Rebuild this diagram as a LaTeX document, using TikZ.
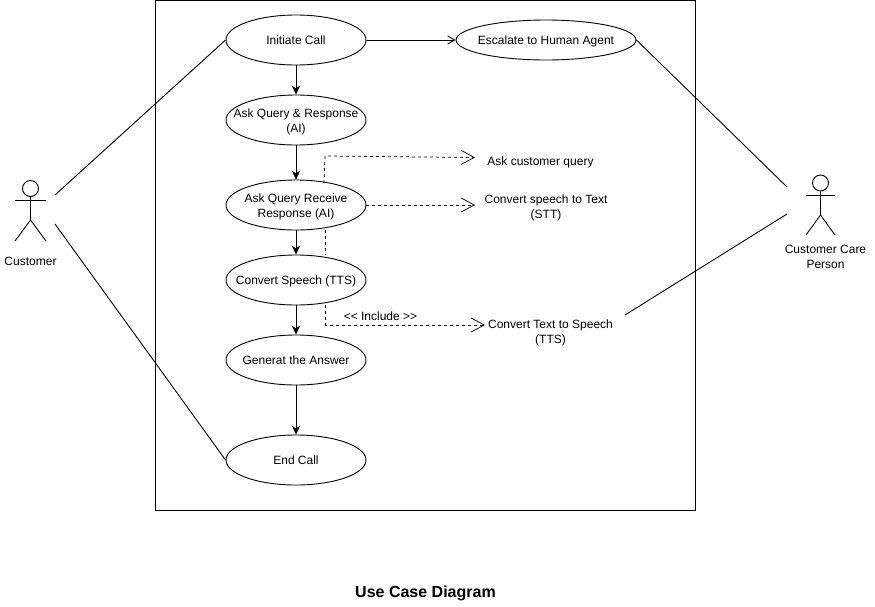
\documentclass[tikz,border=0pt]{standalone}
\usepackage{fontspec}
\setmainfont{Liberation Sans}
\usetikzlibrary{arrows.meta,shapes.geometric}
\newcommand{\lowerline}{\rule{0pt}{13pt}}
\begin{document}
\begin{tikzpicture}[x=1pt, y=-1pt, >={Stealth[length=9pt,width=8.5pt]}, line width=0.9pt]
        \tikzset{%
         every usecase/.style={
            ellipse,
            draw,
            align=center,
            inner sep=-15pt,
            font=\fontsize{12}{15}\selectfont,
            minimum width=140pt,
            minimum height=50pt},
        usecase initiate/.style={text height=11.5pt, text depth=2.9pt},
        usecase speech/.style={text height=11.5pt, text depth=2.9pt},
        usecase answer/.style={text height=11.5pt, text depth=2.9pt},
        usecase end/.style={text height=11.5pt, text depth=2.9pt},
        usecase escalate/.style={
            text height=11.5pt,
            text depth=2.9pt,
            minimum width=180pt,
            minimum height=40pt},
        note/.style={
            align=center,
            font=\fontsize{12}{15}\selectfont},
        include/.style={
            dashed,
            line width=0.75pt,
            dash pattern=on 3pt off 3pt,
            -{Straight Barb[length=13pt,width=14pt]}},
        dep/.style={
            dashed,
            line width=0.75pt,
            dash pattern=on 3pt off 3pt},
        }
        \useasboundingbox (0,0) rectangle (875,606);

        \node [draw, minimum width=540pt, minimum height=510pt, inner sep=0pt] (system) at (425.5,255.5) {};

        \foreach \m/\l/\y in {initiate/Initiate Call/40,
                              query/{\lowerline Ask Query \& Response\\(AI)}/120,
                              receive/{\lowerline Ask Query Receive\\Response (AI)}/205,
                              speech/Convert Speech (TTS)/280,
                              answer/Generat the Answer/360,
                              end/End Call/460}
        {
            \node [every usecase/.try, usecase \m/.try] (case-\m) at (296,\y) {\l};
        }
        \node [every usecase/.try, usecase escalate/.try] (case-escalate) at (546,40) {Escalate to Human Agent};

        \node [note] (note-query) at (540.5,162) {Ask customer query};
        \node [note] (note-stt) at (546,207.5) {Convert speech to Text\\(STT)};
        \node [note] (note-tts) at (550.5,333) {Convert Text to Speech\\(TTS)};
        \node [note] (note-include) at (380.5,316) {<{}< Include >{}>};
        \node [font=\bfseries\fontsize{16}{19}\selectfont] (title) at (425.5,593.5) {Use Case Diagram};

        % left actor
        \node [draw, circle, minimum size=16pt, inner sep=0pt] (customer-head) at (30.5,188.5) {};
        \coordinate (customer-hip) at (30.5,220);
        \coordinate (customer-l) at (15,200);
        \coordinate (customer-r) at (46,200);
        \draw (customer-head) -- (customer-hip) -- (15,241);
        \draw (customer-hip) -- (46,241);
        \draw (customer-l) -- (customer-r);
        \node [note] (customer) at (30.5,261) {Customer};

        % right actor
        \node [draw, circle, minimum size=16pt, inner sep=0pt] (agent-head) at (820.5,183) {};
        \coordinate (agent-hip) at (820.5,215);
        \coordinate (agent-l) at (806,195);
        \coordinate (agent-r) at (835,195);
        \draw (agent-head) -- (agent-hip) -- (806,235);
        \draw (agent-hip) -- (835,235);
        \draw (agent-l) -- (agent-r);
        \node [note] (agent) at (825.5,256.5) {Customer Care\\Person};

        \foreach \i/\j in {initiate/query,query/receive,receive/speech,speech/answer,answer/end}
            \draw [->] (case-\i) -- (case-\j);
        \draw [-{Straight Barb[length=7pt,width=8pt]}] (case-initiate) -- (case-escalate);

        \coordinate (customer-a) at (55,195);
        \coordinate (customer-b) at (55,224);
        \coordinate (agent-a) at (787,187);
        \coordinate (agent-b) at (787,214);
        \coordinate (tts-out) at (625,315);
        \draw (customer-a) -- (case-initiate.west);
        \draw (customer-b) -- (case-end.west);
        \draw (case-escalate.east) -- (agent-a);
        \draw (tts-out) -- (agent-b);

        \coordinate (query-a) at (324,183);
        \coordinate (query-b) at (325,156);
        \coordinate (query-c) at (475,157.5);
        \coordinate (stt-c) at (475,205);
        \coordinate (tts-a) at (325.5,230);
        \coordinate (tts-b) at (325.5,255);
        \coordinate (tts-c) at (325.5,305);
        \coordinate (tts-d) at (325.5,325);
        \coordinate (tts-e) at (485,325);
        \draw [include] (query-a) -- (query-b) -- (query-c);
        \draw [include] (case-receive.east) -- (stt-c);
        \draw [dep] (tts-a) -- (tts-b);
        \draw [include] (tts-c) -- (tts-d) -- (tts-e);
\end{tikzpicture}
\end{document}
